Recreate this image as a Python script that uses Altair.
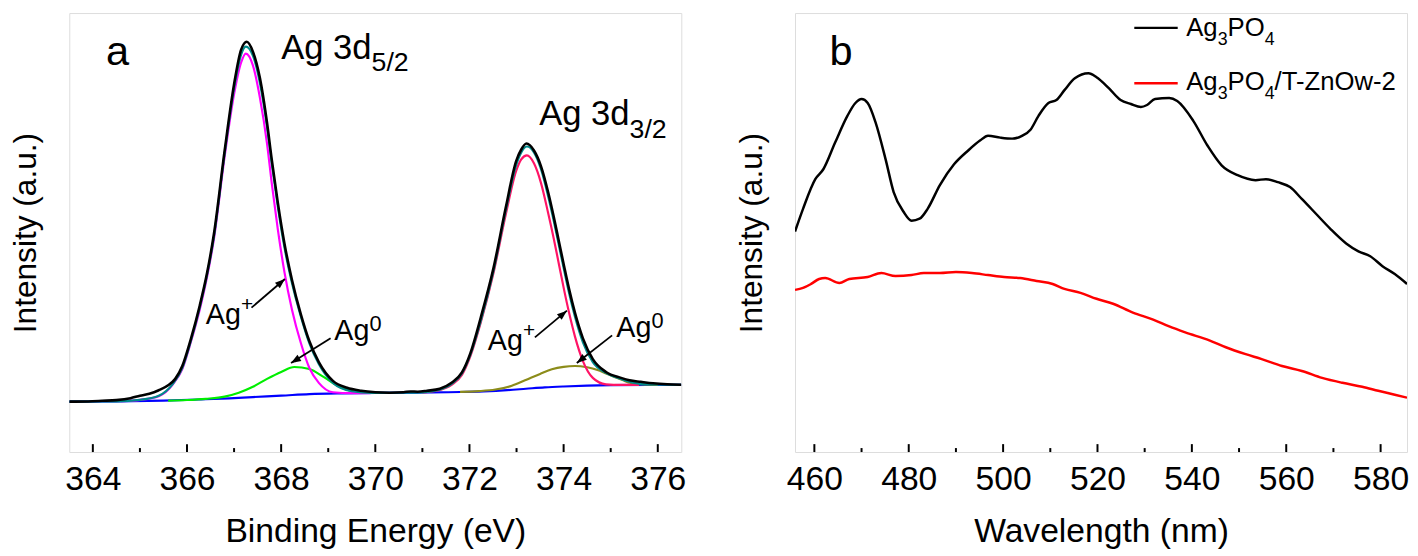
import math
import altair as alt
import pandas as pd

FONT = "Liberation Sans"

# ---------------- Panel a : Ag 3d XPS (binding energy eV, intensity a.u.) ----------------
xps_raw = [(363.5, 51), (363.9, 51.2), (364.2, 51.8), (364.5, 52.5), (364.8, 54.5), (365.0, 57),
           (365.2, 59), (365.4, 62.5), (365.6, 67.5), (365.75, 74), (365.9, 87), (366.08, 114),
           (366.27, 148), (366.43, 182), (366.57, 220), (366.8, 305), (367.0, 372), (367.15, 407),
           (367.27, 415), (367.4, 405), (367.55, 378), (367.7, 333), (367.8, 296), (367.93, 252),
           (368.07, 211), (368.23, 174), (368.42, 139), (368.6, 112), (368.8, 91), (369.1, 72),
           (369.4, 65), (369.7, 62), (370.0, 60.5), (370.3, 60), (370.6, 60.5), (370.75, 61.3),
           (370.9, 61), (371.1, 62), (371.37, 64), (371.62, 70), (371.84, 80.5), (372.02, 100),
           (372.24, 136), (372.51, 186), (372.77, 247), (372.99, 294), (373.1, 306), (373.21, 312),
           (373.37, 305), (373.52, 289), (373.67, 263), (373.79, 238), (373.9, 213), (374.01, 188),
           (374.12, 164), (374.24, 141), (374.41, 115), (374.62, 94), (374.9, 81), (375.22, 75),
           (375.4, 72.5), (375.64, 71), (375.9, 69.5), (376.2, 68.5), (376.5, 68)]

xps_envelope = [(363.5, 51), (364.5, 51.3), (365.0, 52.8), (365.4, 57), (365.7, 69), (365.9, 85),
                (366.08, 112), (366.27, 146), (366.43, 180), (366.57, 217), (366.8, 302), (367.0, 368),
                (367.15, 402), (367.25, 410), (367.4, 401), (367.55, 373), (367.7, 329), (367.8, 292),
                (367.93, 248), (368.07, 207), (368.23, 171), (368.42, 137), (368.6, 110), (368.8, 89),
                (369.1, 70), (369.5, 61.5), (369.9, 59.8), (370.5, 60), (371.0, 60.3), (371.3, 62.2),
                (371.62, 69), (371.84, 79.5), (372.02, 98.5), (372.24, 132.5), (372.51, 183),
                (372.77, 244), (372.99, 290), (373.1, 303), (373.22, 309), (373.37, 303), (373.52, 286),
                (373.67, 259), (373.79, 234), (373.9, 209), (374.01, 184), (374.12, 160), (374.24, 137),
                (374.41, 111), (374.62, 91), (374.9, 80), (375.22, 74), (375.5, 70), (375.8, 68.3),
                (376.5, 68)]

ag_plus_52 = [(364.6, 51.5), (365.0, 52.8), (365.4, 56.5), (365.7, 68.5), (365.9, 84), (366.08, 111),
              (366.27, 144), (366.43, 178), (366.57, 215), (366.8, 299), (367.0, 362), (367.15, 394),
              (367.25, 403), (367.4, 391), (367.55, 358), (367.7, 312), (367.8, 272), (367.93, 225),
              (368.07, 182), (368.23, 144), (368.42, 110), (368.6, 85), (368.8, 70), (369.1, 60.5),
              (369.5, 59.5), (369.9, 59.6)]

ag0_52 = [(365.6, 52), (366.0, 52.6), (366.4, 53.8), (366.8, 56), (367.1, 60), (367.4, 66), (367.7, 74),
          (368.0, 81), (368.28, 86), (368.6, 84), (368.9, 76), (369.2, 67), (369.5, 61.5), (369.8, 59.8),
          (370.1, 59.9)]

ag_plus_32 = [(371.0, 60.3), (371.3, 62), (371.62, 68), (371.84, 78), (372.02, 97), (372.24, 131),
              (372.51, 181), (372.77, 240), (372.99, 284), (373.1, 296), (373.22, 300), (373.37, 292),
              (373.52, 272), (373.67, 242), (373.79, 216), (373.9, 190), (374.01, 164), (374.12, 140),
              (374.24, 117), (374.41, 92), (374.62, 75), (374.9, 68.5), (375.22, 67.9), (375.6, 68)]

ag0_32 = [(371.8, 60.8), (372.2, 61.6), (372.55, 63.2), (372.9, 67), (373.18, 72.5), (373.5, 79),
          (373.75, 83.7), (374.0, 86.2), (374.24, 87), (374.5, 85.7), (374.72, 83), (374.9, 79.5),
          (375.08, 76), (375.25, 72.8), (375.43, 69.8), (375.7, 68.3), (376.0, 68)]

xps_background = [(363.5, 51), (364.5, 51.2), (365.5, 52), (366.3, 53.2), (366.9, 54.3), (367.4, 55.6),
                  (368.0, 57), (368.6, 58.6), (369.3, 59.4), (370.0, 59.8), (371.0, 60.2), (371.8, 60.7),
                  (372.3, 61.4), (372.8, 62.6), (373.2, 64), (373.6, 65.4), (374.0, 66.3), (374.5, 67.1),
                  (375.0, 67.6), (375.8, 67.9), (376.5, 68)]

a_major = [364, 366, 368, 370, 372, 374, 376]
a_minor = [365, 367, 369, 371, 373, 375]

# ---------------- Panel b : PL spectra (wavelength nm, intensity a.u.) ----------------
pl_ag3po4 = [(455.9, 223), (457.6, 246), (460.2, 276), (461.9, 286), (464.4, 313), (467.0, 340),
             (468.7, 353), (470.0, 357), (471.3, 353), (473.0, 333), (475.1, 296), (476.8, 263),
             (478.9, 243), (480.6, 234), (482.3, 236), (484.0, 246), (486.6, 270), (489.6, 291),
             (492.6, 305), (495.1, 315), (496.8, 320), (499.4, 318), (501.9, 317), (504.1, 320),
             (505.8, 326), (507.5, 340), (509.6, 353), (511.3, 356), (513.0, 366), (515.2, 378),
             (518.1, 383), (519.8, 379), (522.4, 368), (524.9, 356), (527.1, 352), (529.2, 349),
             (530.5, 351), (532.2, 357), (535.2, 358), (536.9, 355), (540.3, 335), (543.3, 310),
             (546.3, 290), (549.7, 280), (553.5, 275), (555.7, 276), (558.2, 273), (560.8, 268),
             (563.3, 256), (566.3, 241), (569.3, 226), (572.7, 211), (575.3, 203), (577.8, 198),
             (580.4, 188), (583.0, 180), (585.6, 170)]

pl_composite = [(455.9, 164), (457.6, 166), (459.3, 170), (461.0, 175), (462.3, 176), (465.3, 171),
                (467.4, 175), (471.3, 177), (474.2, 181), (477.2, 178), (480.6, 179), (483.2, 181),
                (486.6, 181), (490.0, 182), (493.4, 181), (496.8, 179), (500.2, 177), (503.6, 176),
                (507.1, 173), (510.5, 170), (513.0, 165), (516.4, 161), (519.8, 155), (523.3, 150),
                (527.5, 141), (531.8, 134), (535.2, 127), (538.6, 121), (543.7, 113), (547.2, 106),
                (551.4, 99), (554.8, 94), (559.1, 87), (563.3, 82), (567.6, 75), (571.9, 70),
                (576.1, 66), (579.5, 62), (583.0, 58), (585.6, 55)]

b_major = [460, 480, 500, 520, 540, 560, 580]
b_minor = [470, 490, 510, 530, 550, 570]

# ---------------- layout ----------------
W, H = 619, 444
A_DOM = [363.5, 376.5]
B_DOM = [455.9, 585.6]
Y_DOM = [0, 444]

ys = alt.Scale(domain=Y_DOM, nice=False, zero=False)
yaxis = alt.Axis(labels=False, ticks=False, domain=False, grid=False, title="Intensity (a.u.)",
                 titleFont=FONT, titleFontSize=32, titleFontWeight="normal", titleColor="black",
                 titlePadding=27)


def make_xaxis(values, title):
    return alt.Axis(values=values, ticks=False, tickSize=0, domain=False, grid=False, format="d",
                    labelFont=FONT, labelFontSize=34, labelColor="black", labelPadding=11,
                    labelFlush=False, labelOverlap=False,
                    title=title, titleFont=FONT, titleFontSize=34, titleFontWeight="normal",
                    titleColor="black", titlePadding=18)


WIDTHS = {'A': 667, 'g': 556, ' ': 278, '3': 556, 'd': 556, '5': 556, '/': 278, '2': 556, '+': 584,
          '0': 556, 'P': 667, 'O': 778, '4': 556, 'T': 611, '-': 333, 'Z': 611, 'n': 556, 'w': 722,
          'a': 556, 'b': 556}


def text_width(s, size):
    return sum(WIDTHS.get(c, 556) for c in s) * size / 1000.0


def panel(xdom, xvals, xminor, xtitle):
    xs = alt.Scale(domain=xdom, nice=False, zero=False)
    xaxis = make_xaxis(xvals, xtitle)

    def enc():
        return dict(x=alt.X("x:Q", scale=xs, axis=xaxis), y=alt.Y("y:Q", scale=ys, axis=yaxis))

    def line(pts, color, width):
        df = pd.DataFrame(pts, columns=["x", "y"])
        return alt.Chart(df).mark_line(color=color, strokeWidth=width, interpolate="monotone",
                                       clip=True).encode(**enc())

    def rich(x, y, segments):
        layers = []
        dx = 0.0
        for txt, size, dy in segments:
            df = pd.DataFrame({"x": [x], "y": [y], "t": [txt]})
            layers.append(alt.Chart(df).mark_text(align="left", baseline="alphabetic", font=FONT,
                                                  fontSize=size, dx=dx, dy=dy, color="black")
                          .encode(text="t:N", **enc()))
            dx += text_width(txt, size)
        return layers

    def arrows(items):
        df = pd.DataFrame(items, columns=["x", "y", "x2", "y2"])
        shaft = alt.Chart(df).mark_rule(color="black", strokeWidth=1.8).encode(
            x2="x2:Q", y2="y2:Q", **enc())
        kx = W / (xdom[1] - xdom[0])
        ky = H / (Y_DOM[1] - Y_DOM[0])
        heads = []
        for x1, y1, x2, y2 in items:
            dxp = (x2 - x1) * kx
            dyp = -(y2 - y1) * ky
            ang = math.degrees(math.atan2(dxp, -dyp)) % 360
            hd = pd.DataFrame({"x": [x2], "y": [y2]})
            heads.append(alt.Chart(hd).mark_point(shape="M0,0L0.75,2L-0.75,2Z", filled=True, size=100,
                                                  angle=ang, color="black", opacity=1, strokeWidth=0)
                         .encode(**enc()))
        return [shaft] + heads

    def ticks(vals, length):
        df = pd.DataFrame({"x": vals})
        return alt.Chart(df).mark_rule(color="black", strokeWidth=2).encode(
            x=alt.X("x:Q", scale=xs, axis=xaxis), y=alt.value(H - length), y2=alt.value(H))

    return line, rich, arrows, [ticks(xvals, 8), ticks(xminor, 4)]


# ----- panel a -----
line, rich, arrows, tick_layers = panel(A_DOM, a_major, a_minor, "Binding Energy (eV)")
layers_a = [
    line(xps_background, "#0000ff", 2.2),
    line(ag0_52, "#00ee00", 2.2),
    line(ag0_32, "#8c8c1a", 2.2),
    line(ag_plus_52, "#ff00ff", 2.2),
    line(ag_plus_32, "#ff1466", 2.2),
    line(xps_envelope, "#008b8b", 2.2),
    line(xps_raw, "#000000", 2.6),
]
layers_a += tick_layers
layers_a += rich(364.28, 391, [("a", 42, 0)])
layers_a += rich(368.0, 398, [("Ag 3d", 35, 0), ("5/2", 27, 13)])
layers_a += rich(373.48, 331, [("Ag 3d", 35, 0), ("3/2", 27, 13)])
layers_a += rich(366.4, 130, [("Ag", 29, 0), ("+", 21, -13)])
layers_a += rich(369.13, 113, [("Ag", 29, 0), ("0", 22, -9)])
layers_a += rich(372.39, 103, [("Ag", 29, 0), ("+", 21, -13)])
layers_a += rich(375.12, 116, [("Ag", 29, 0), ("0", 22, -9)])
layers_a += arrows([(367.37, 146, 368.08, 175), (369.05, 115, 368.21, 90),
                    (373.39, 116, 374.07, 143), (375.03, 118, 374.28, 90)])
chart_a = alt.layer(*layers_a).properties(width=W, height=H)

# ----- panel b -----
line, rich, arrows, tick_layers = panel(B_DOM, b_major, b_minor, "Wavelength (nm)")
legend_lines = [(527.8, 429, 537.0, 429, "black"), (527.8, 373, 537.0, 373, "#ff0000")]
layers_b = [
    line(pl_ag3po4, "#000000", 2.5),
    line(pl_composite, "#ff0000", 2.5),
]
layers_b += tick_layers
for lx1, ly1, lx2, ly2, col in legend_lines:
    layers_b.append(line([(lx1, ly1), (lx2, ly2)], col, 2.5))
layers_b += rich(463.2, 391, [("b", 42, 0)])
layers_b += rich(538.8, 421, [("Ag", 26, 0), ("3", 18, 9), ("PO", 26, 0), ("4", 18, 9)])
layers_b += rich(538.8, 366, [("Ag", 26, 0), ("3", 18, 9), ("PO", 26, 0), ("4", 18, 9),
                              ("/T-ZnOw-2", 26, 0)])
chart_b = alt.layer(*layers_b).properties(width=W, height=H)

chart = (alt.hconcat(chart_a, chart_b, spacing=48)
         .properties(padding={"left": 1, "top": 1, "right": 0, "bottom": 0})
         .configure_view(stroke="black", strokeWidth=2.5)
         .configure(background="white"))

chart.save("out.html", embed_options={"renderer": "svg", "actions": False})
